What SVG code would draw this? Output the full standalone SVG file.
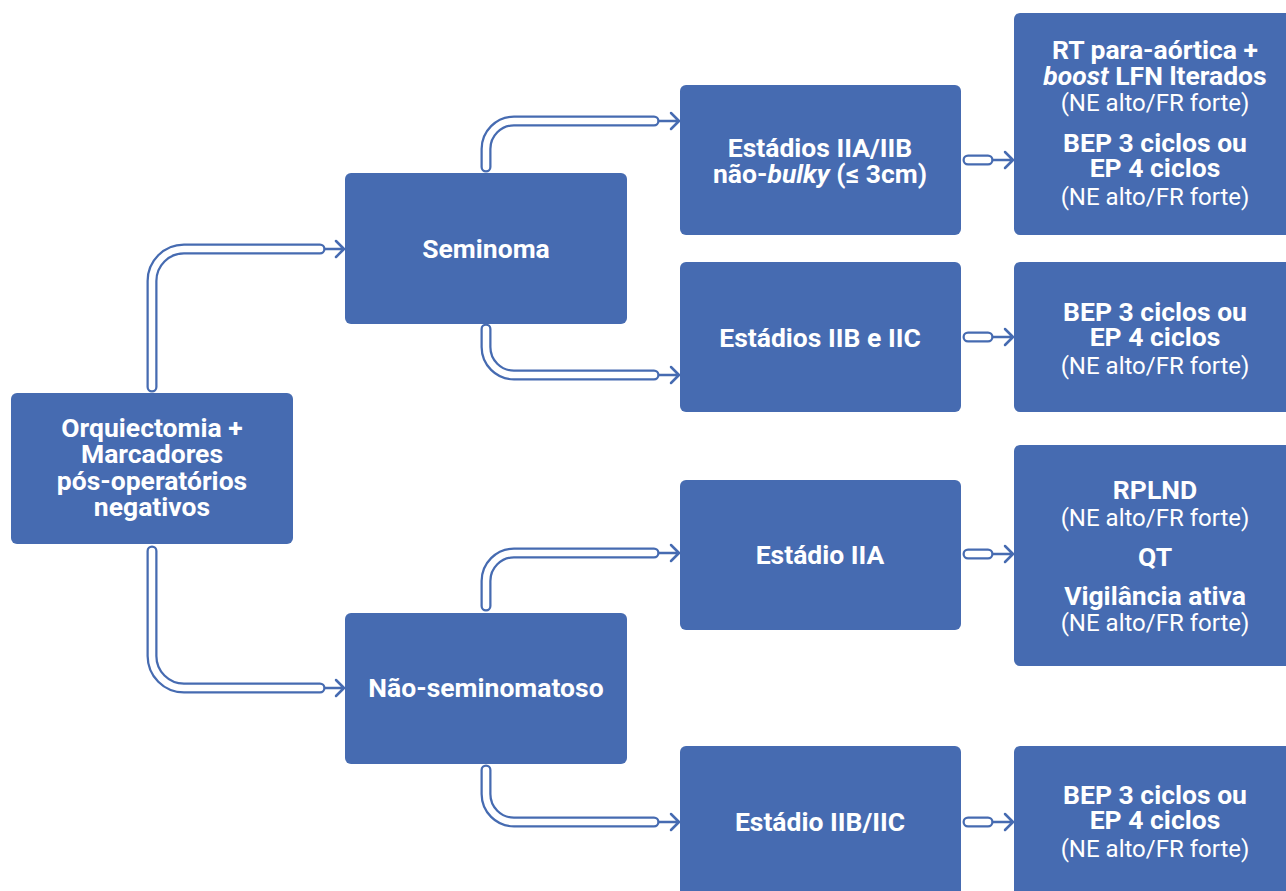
<svg xmlns="http://www.w3.org/2000/svg" width="1286" height="891" viewBox="0 0 1286 891">
<style>
.box{fill:#466BB1}
.t{font-family:Roboto,"Liberation Sans",sans-serif;font-weight:bold;font-size:26.5px;fill:#fff;text-anchor:middle}
.s{font-family:Roboto,"Liberation Sans",sans-serif;font-weight:normal;font-size:24px;fill:#fff;text-anchor:middle}
.to{fill:none;stroke:#466BB1;stroke-width:11;stroke-linecap:round;stroke-linejoin:round}
.ti{fill:none;stroke:#fff;stroke-width:6.5;stroke-linecap:round;stroke-linejoin:round}
.ar{fill:none;stroke:#466BB1;stroke-width:2.5;stroke-linecap:round;stroke-linejoin:round}
</style>
<rect width="1286" height="891" fill="#fff"/>
<g id="connectors">
<path class="ar" d="M322,249 H343 M336,241 L344,249 L336,257"/>
<path class="to" d="M152,387 V281 A32,32 0 0 1 184,249 H320"/>
<path class="ti" d="M152,387 V281 A32,32 0 0 1 184,249 H320"/>
<path class="ar" d="M322,688 H343 M336,680 L344,688 L336,696"/>
<path class="to" d="M152,551 V656 A32,32 0 0 0 184,688 H320"/>
<path class="ti" d="M152,551 V656 A32,32 0 0 0 184,688 H320"/>
<path class="ar" d="M656,121 H678 M671,113 L679,121 L671,129"/>
<path class="to" d="M486,167 V149 A28,28 0 0 1 514,121 H654"/>
<path class="ti" d="M486,167 V149 A28,28 0 0 1 514,121 H654"/>
<path class="ar" d="M656,375 H678 M671,367 L679,375 L671,383"/>
<path class="to" d="M486,329 V347 A28,28 0 0 0 514,375 H654"/>
<path class="ti" d="M486,329 V347 A28,28 0 0 0 514,375 H654"/>
<path class="ar" d="M656,553 H678 M671,545 L679,553 L671,561"/>
<path class="to" d="M486,606 V581 A28,28 0 0 1 514,553 H654"/>
<path class="ti" d="M486,606 V581 A28,28 0 0 1 514,553 H654"/>
<path class="ar" d="M656,822 H678 M671,814 L679,822 L671,830"/>
<path class="to" d="M486,770 V794 A28,28 0 0 0 514,822 H654"/>
<path class="ti" d="M486,770 V794 A28,28 0 0 0 514,822 H654"/>
<path class="ar" d="M990,160 H1012 M1005,152 L1013,160 L1005,168"/>
<path class="to" d="M968,160 H988"/>
<path class="ti" d="M968,160 H988"/>
<path class="ar" d="M990,337 H1012 M1005,329 L1013,337 L1005,345"/>
<path class="to" d="M968,337 H988"/>
<path class="ti" d="M968,337 H988"/>
<path class="ar" d="M990,554 H1012 M1005,546 L1013,554 L1005,562"/>
<path class="to" d="M968,554 H988"/>
<path class="ti" d="M968,554 H988"/>
<path class="ar" d="M990,822 H1012 M1005,814 L1013,822 L1005,830"/>
<path class="to" d="M968,822 H988"/>
<path class="ti" d="M968,822 H988"/>
</g>
<g id="root">
<rect class="box" x="11" y="393" width="282" height="151" rx="6"/>
<text class="t" x="152" y="437">Orquiectomia +</text>
<text class="t" x="152" y="463">Marcadores</text>
<text class="t" x="152" y="490">pós-operatórios</text>
<text class="t" x="152" y="516">negativos</text>
</g>
<g id="seminoma">
<rect class="box" x="345" y="173" width="282" height="151" rx="6"/>
<text class="t" x="486" y="258">Seminoma</text>
</g>
<g id="naoseminoma">
<rect class="box" x="345" y="613" width="282" height="151" rx="6"/>
<text class="t" x="486" y="697">Não-seminomatoso</text>
</g>
<g id="est-iia-iib">
<rect class="box" x="680" y="85" width="281" height="150" rx="6"/>
<text class="t" x="820" y="157">Estádios IIA/IIB</text>
<text class="t" x="820" y="183">não-<tspan font-style="italic">bulky</tspan> (≤ 3cm)</text>
</g>
<g id="est-iib-iic">
<rect class="box" x="680" y="262" width="281" height="150" rx="6"/>
<text class="t" x="820" y="347">Estádios IIB e IIC</text>
</g>
<g id="est-iia">
<rect class="box" x="680" y="480" width="281" height="150" rx="6"/>
<text class="t" x="820" y="564">Estádio IIA</text>
</g>
<g id="est-iib-iic-ns">
<rect class="box" x="680" y="746" width="281" height="160" rx="6"/>
<text class="t" x="820" y="831">Estádio IIB/IIC</text>
</g>
<g id="tx1">
<rect class="box" x="1014" y="13" width="280" height="222" rx="6"/>
<text class="t" x="1155" y="59">RT para-aórtica +</text>
<text class="t" x="1155" y="85"><tspan font-style="italic">boost</tspan> LFN lterados</text>
<text class="s" x="1155" y="111">(NE alto/FR forte)</text>
<text class="t" x="1155" y="152">BEP 3 ciclos ou</text>
<text class="t" x="1155" y="177">EP 4 ciclos</text>
<text class="s" x="1155" y="205">(NE alto/FR forte)</text>
</g>
<g id="tx2">
<rect class="box" x="1014" y="262" width="280" height="150" rx="6"/>
<text class="t" x="1155" y="321">BEP 3 ciclos ou</text>
<text class="t" x="1155" y="346">EP 4 ciclos</text>
<text class="s" x="1155" y="374">(NE alto/FR forte)</text>
</g>
<g id="tx3">
<rect class="box" x="1014" y="445" width="280" height="221" rx="6"/>
<text class="t" x="1155" y="499">RPLND</text>
<text class="s" x="1155" y="526">(NE alto/FR forte)</text>
<text class="t" x="1155" y="566">QT</text>
<text class="t" x="1155" y="605">Vigilância ativa</text>
<text class="s" x="1155" y="631">(NE alto/FR forte)</text>
</g>
<g id="tx4">
<rect class="box" x="1014" y="746" width="280" height="160" rx="6"/>
<text class="t" x="1155" y="804">BEP 3 ciclos ou</text>
<text class="t" x="1155" y="829">EP 4 ciclos</text>
<text class="s" x="1155" y="857">(NE alto/FR forte)</text>
</g>
</svg>
